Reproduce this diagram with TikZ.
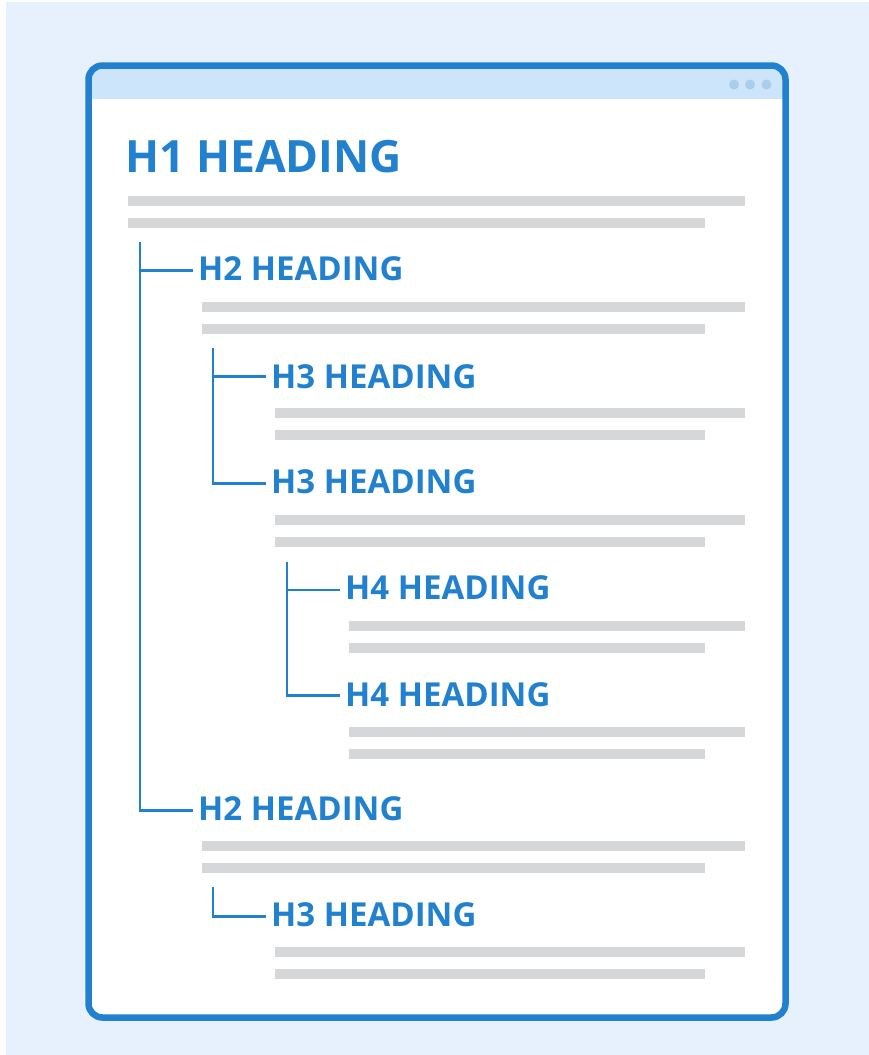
\documentclass[tikz,border=0pt]{standalone}
\usepackage{fontspec}
\setmainfont{Open Sans}
\usepackage{xcolor}
\definecolor{pageblue}{HTML}{E6F1FD}
\definecolor{frameblue}{HTML}{2181CE}
\definecolor{barblue}{HTML}{CCE5FA}
\definecolor{dotblue}{HTML}{A9CDEB}
\definecolor{linegray}{HTML}{D6D7D8}
\begin{document}
\begin{tikzpicture}[x=1pt,y=-1pt,
	heading/.style={anchor=west,inner sep=0pt,text=frameblue,font=\bfseries\fontsize{33}{33}\selectfont},
	bigheading/.style={heading,font=\bfseries\fontsize{44.5}{44.5}\selectfont},
	branch/.style={frameblue,line width=2.6pt},
	textline/.style={linegray,line width=10.5pt}]
	\useasboundingbox (0,0) rectangle (869,1055);
	\fill [pageblue] (6,2) rectangle (869,1055);
	% window
	\fill [white,rounded corners=14] (88.5,65.5) rectangle (785.5,1017.5);
	\begin{scope}
		\clip [rounded corners=14] (88.5,65.5) rectangle (785.5,1017.5);
		\fill [barblue] (88.5,65.5) rectangle (785.5,99);
	\end{scope}
	\fill [dotblue] (734,84.5) circle (5);
	\fill [dotblue] (750,84.5) circle (5);
	\fill [dotblue] (766.5,84.5) circle (5);
	\draw [frameblue,line width=6.5pt,rounded corners=14] (88.5,65.5) rectangle (785.5,1017.5);
	% headings
	\node [bigheading] (h1) at (125,157) {H1 HEADING};
	\node [heading] (h2a) at (198,269) {H2 HEADING};
	\node [heading] (h3a) at (271,376.5) {H3 HEADING};
	\node [heading] (h3b) at (271,482) {H3 HEADING};
	\node [heading] (h4a) at (345,587.5) {H4 HEADING};
	\node [heading] (h4b) at (345,695) {H4 HEADING};
	\node [heading] (h2b) at (198,808.5) {H2 HEADING};
	\node [heading] (h3c) at (271,914.7) {H3 HEADING};
	% trunks
	\coordinate (t2) at (140,241.5);
	\coordinate (t3a) at (213,348);
	\coordinate (t4) at (287,561.5);
	\coordinate (t3c) at (213,887);
	\draw [branch] (t2) |- ([xshift=-5,yshift=-2]h2b.west);
	\draw [branch] ([xshift=-5,yshift=-1.5]h2a.west) -| (t2);
	\draw [branch] (t3a) |- ([xshift=-5,yshift=-1.2]h3b.west);
	\draw [branch] ([xshift=-5]h3a.west) -| (t3a);
	\draw [branch] (t4) |- ([xshift=-5,yshift=-0.7]h4b.west);
	\draw [branch] ([xshift=-5,yshift=-2.5]h4a.west) -| (t4);
	\draw [branch] (t3c) |- ([xshift=-5,yshift=-2]h3c.west);
	% text lines
	\draw [textline] (128,201) -- (745,201);
	\draw [textline] (128,223) -- (705,223);
	\draw [textline] (202,307) -- (745,307);
	\draw [textline] (202,329) -- (705,329);
	\draw [textline] (275,413) -- (745,413);
	\draw [textline] (275,435) -- (705,435);
	\draw [textline] (275,520) -- (745,520);
	\draw [textline] (275,542) -- (705,542);
	\draw [textline] (349,626) -- (745,626);
	\draw [textline] (349,648) -- (705,648);
	\draw [textline] (349,732) -- (745,732);
	\draw [textline] (349,754) -- (705,754);
	\draw [textline] (202,846) -- (745,846);
	\draw [textline] (202,868) -- (705,868);
	\draw [textline] (275,952) -- (745,952);
	\draw [textline] (275,974) -- (705,974);
\end{tikzpicture}
\end{document}
